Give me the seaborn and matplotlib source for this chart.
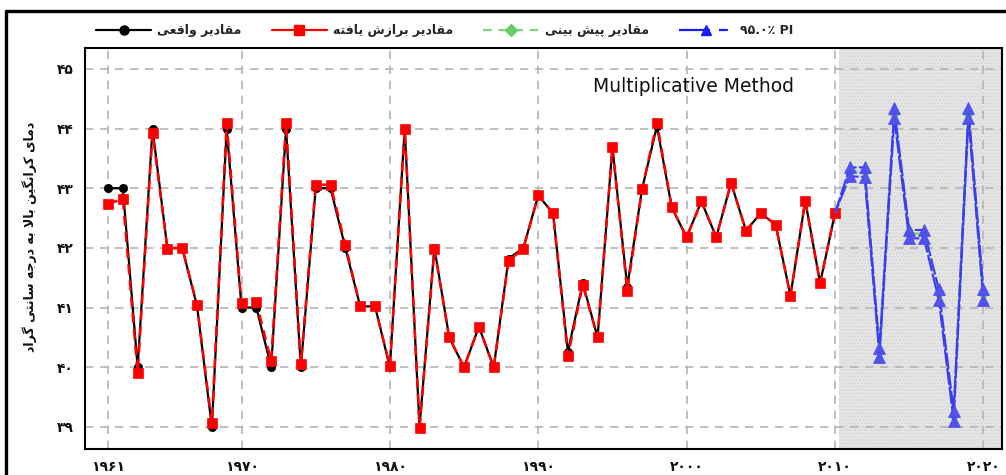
import matplotlib
matplotlib.use("Agg")
import matplotlib.pyplot as plt
import seaborn as sns
import numpy as np
import pandas as pd
from matplotlib.lines import Line2D
from matplotlib import font_manager
from matplotlib.ft2font import FT2Font

# ---------------- data ----------------
years_obs = list(range(1961, 2011))
actual = [43.0, 43.0, 40.0, 44.0, 42.0, 42.0, 41.03, 39.0, 44.0, 41.0,
          41.0, 40.0, 44.0, 40.0, 43.0, 43.0, 42.0, 41.02, 41.02, 40.0,
          44.0, 39.0, 42.0, 40.5, 40.0, 40.68, 40.0, 41.82, 42.0, 42.88,
          42.58, 40.26, 41.41, 40.5, 43.69, 41.35, 42.99, 44.04, 42.68, 42.18,
          42.78, 42.18, 43.09, 42.29, 42.58, 42.39, 41.2, 42.79, 41.41, 42.58]
fitted = [42.74, 42.82, 39.9, 43.93, 41.99, 42.0, 41.05, 39.06, 44.1, 41.07,
          41.09, 40.1, 44.1, 40.05, 43.06, 43.06, 42.05, 41.02, 41.02, 40.02,
          44.0, 38.99, 41.98, 40.5, 40.0, 40.68, 40.0, 41.78, 41.99, 42.88,
          42.58, 40.19, 41.38, 40.5, 43.69, 41.28, 42.99, 44.1, 42.68, 42.18,
          42.78, 42.18, 43.09, 42.29, 42.58, 42.39, 41.2, 42.79, 41.41, 42.58]
years_fc = list(range(2010, 2021))
forecast = [42.58, 43.28, 43.27, 40.25, 44.25, 42.24, 42.24, 41.23, 39.18, 44.25, 41.22]
upper_pi = [42.58, 43.35, 43.35, 40.32, 44.34, 42.30, 42.30, 41.31, 39.27, 44.34, 41.31]
lower_pi = [42.58, 43.20, 43.19, 40.18, 44.17, 42.16, 42.16, 41.13, 39.10, 44.17, 41.13]

legend_labels = ["مقادیر واقعی", "مقادیر برازش یافته", "مقادیر پیش بینی", "۹۵.۰٪ PI"]
y_label = "دمای کرانگین بالا به درجه سانتی گراد"
title_text = "Multiplicative Method"
x_ticks = [1961, 1970, 1980, 1990, 2000, 2010, 2020]
y_ticks = [39, 40, 41, 42, 43, 44, 45]

# ---------------- helpers ----------------
FA_DIGITS = str.maketrans("0123456789", "۰۱۲۳۴۵۶۷۸۹")

def fa_num(v):
    return str(v).translate(FA_DIGITS)

FORMS = {
    'ا': ('\uFE8D', '\uFE8E', None, None),
    'ب': ('\uFE8F', '\uFE90', '\uFE91', '\uFE92'),
    'پ': ('\uFB56', '\uFB57', '\uFB58', '\uFB59'),
    'ت': ('\uFE95', '\uFE96', '\uFE97', '\uFE98'),
    'ج': ('\uFE9D', '\uFE9E', '\uFE9F', '\uFEA0'),
    'د': ('\uFEA9', '\uFEAA', None, None),
    'ر': ('\uFEAD', '\uFEAE', None, None),
    'ز': ('\uFEAF', '\uFEB0', None, None),
    'س': ('\uFEB1', '\uFEB2', '\uFEB3', '\uFEB4'),
    'ش': ('\uFEB5', '\uFEB6', '\uFEB7', '\uFEB8'),
    'ع': ('\uFEC9', '\uFECA', '\uFECB', '\uFECC'),
    'ف': ('\uFED1', '\uFED2', '\uFED3', '\uFED4'),
    'ق': ('\uFED5', '\uFED6', '\uFED7', '\uFED8'),
    'ک': ('\uFB8E', '\uFB8F', '\uFB90', '\uFB91'),
    'گ': ('\uFB92', '\uFB93', '\uFB94', '\uFB95'),
    'ل': ('\uFEDD', '\uFEDE', '\uFEDF', '\uFEE0'),
    'م': ('\uFEE1', '\uFEE2', '\uFEE3', '\uFEE4'),
    'ن': ('\uFEE5', '\uFEE6', '\uFEE7', '\uFEE8'),
    'ه': ('\uFEE9', '\uFEEA', '\uFEEB', '\uFEEC'),
    'و': ('\uFEED', '\uFEEE', None, None),
    'ی': ('\uFBFC', '\uFBFD', '\uFBFE', '\uFBFF'),
}

try:
    _cm1 = FT2Font(font_manager.findfont(font_manager.FontProperties(family='DejaVu Sans', weight='bold'))).get_charmap()
    _cm2 = FT2Font(font_manager.findfont(font_manager.FontProperties(family='DejaVu Sans'))).get_charmap()
    CMAP = set(_cm1) & set(_cm2)
except Exception:
    CMAP = None


def shape_fa(text):
    words = []
    for w in text.split(' '):
        ch = list(w)
        n = len(ch)
        out = []
        i = 0
        while i < n:
            c = ch[i]
            prev_j = i > 0 and ch[i - 1] in FORMS and FORMS[ch[i - 1]][2] is not None
            if c == 'ل' and i + 1 < n and ch[i + 1] == 'ا':
                g = '\uFEFC' if prev_j else '\uFEFB'
                if CMAP is not None and ord(g) not in CMAP:
                    g = 'لا'
                out.append(g)
                i += 2
                continue
            if c not in FORMS:
                out.append(c)
                i += 1
                continue
            iso, fin, ini, med = FORMS[c]
            next_j = ini is not None and i + 1 < n and ch[i + 1] in FORMS
            if prev_j and next_j:
                g = med
            elif prev_j:
                g = fin
            elif next_j:
                g = ini
            else:
                g = iso
            if CMAP is not None and ord(g) not in CMAP:
                g = c
            out.append(g)
            i += 1
        words.append(''.join(out))
    return ' '.join(words)[::-1]

# ---------------- style ----------------
sns.set_style("white")
plt.rcParams['font.family'] = ['DejaVu Sans', 'Noto Sans']

fig = plt.figure(figsize=(10.06, 4.75), dpi=100)
ax = fig.add_axes([85 / 1006, 1 - 449 / 475, (1002 - 85) / 1006, (449 - 48) / 475])

ax.set_xlim(1959.45, 2021.26)
ax.set_ylim(38.63, 45.35)

# forecast shading
ax.axvspan(2010.25, 2030, facecolor='#e6e6e6', edgecolor='#d6d6d6', hatch='.....', lw=0, zorder=0.2)

ax.set_axisbelow(True)
ax.grid(True, color='#b4b4b4', ls=(0, (5, 4)), lw=1.2)

df_obs = pd.DataFrame({'year': years_obs, 'actual': actual, 'fitted': fitted})
df_fc = pd.DataFrame({'year': years_fc, 'forecast': forecast, 'upper': upper_pi, 'lower': lower_pi})

sns.lineplot(data=df_obs, x='year', y='actual', ax=ax, color='black', lw=1.6,
             marker='o', markersize=6, markeredgecolor='black', markeredgewidth=0.5, zorder=2)
sns.lineplot(data=df_obs, x='year', y='fitted', ax=ax, color='#ff0000', lw=1.8, linestyle=(0, (4, 2.5)),
             zorder=3)
sns.lineplot(data=df_obs, x='year', y='fitted', ax=ax, color='#ff0000', lw=0,
             marker='s', markersize=6.5, markeredgecolor='#ff0000', markeredgewidth=0.5, zorder=3.5)
sns.lineplot(data=df_fc, x='year', y='forecast', ax=ax, color='#7ed67e', lw=1.8, linestyle=(0, (5, 3)),
             zorder=4)
sns.lineplot(data=df_fc.iloc[1:], x='year', y='forecast', ax=ax, color='#66cc66', lw=0,
             marker='D', markersize=5.5, markeredgecolor='#66cc66', markeredgewidth=0.5, zorder=4.5)
for col, dash in [('upper', (0, (8, 1.2))), ('lower', (3, (8, 1.2)))]:
    sns.lineplot(data=df_fc, x='year', y=col, ax=ax, color='#3c3cf0', lw=1.5, linestyle=dash,
                 zorder=5)
    sns.lineplot(data=df_fc.iloc[1:], x='year', y=col, ax=ax, color='#5252ee', lw=0,
                 marker='^', markersize=8.5, markeredgecolor='#4848e8', markeredgewidth=0.5, zorder=6)

ax.text(2000.46, 44.70, title_text, ha='center', va='center', fontsize=13.5, color='#111111')

ax.set_xticks(x_ticks)
ax.set_xticklabels([fa_num(v) for v in x_ticks], fontsize=10, fontweight='bold')
ax.set_yticks(y_ticks)
ax.set_yticklabels([fa_num(v) for v in y_ticks], fontsize=10, fontweight='bold')
ax.tick_params(axis='both', direction='out', length=5, width=1.2, color='black', pad=3, labelcolor='#111111')
ax.set_xlabel('')
ax.set_ylabel(shape_fa(y_label), fontsize=9, fontweight='bold', color='#111111')
ax.yaxis.set_label_coords(-0.052, 0.53)

for s in ax.spines.values():
    s.set_visible(True)
    s.set_color('black')
    s.set_linewidth(1.5)

handles = [
    Line2D([], [], color='black', lw=1.6, marker='o', markersize=6.5, markeredgecolor='black'),
    Line2D([], [], color='#ff0000', lw=1.6, marker='s', markersize=7, markeredgecolor='#ff0000'),
    Line2D([], [], color='#7ed67e', lw=1.6, ls=(0, (4, 3)), marker='D', markersize=6,
           markerfacecolor='#66cc66', markeredgecolor='#66cc66'),
    Line2D([], [], color='#1a1aff', lw=1.6, ls=(0, (14, 4, 4, 4)), marker='^', markersize=7,
           markeredgecolor='#1a1aff'),
]
labels = [shape_fa(legend_labels[0]), shape_fa(legend_labels[1]), shape_fa(legend_labels[2]), legend_labels[3]]
fig.legend(handles, labels, loc='center', bbox_to_anchor=(0.442, 0.936), ncol=4, frameon=False,
           handlelength=4.4, handletextpad=0.5, columnspacing=2.4,
           prop={'size': 9, 'weight': 'bold'})

# outer frame lines (cropped figure border)
fig.add_artist(Line2D([6 / 1006, 1.0], [1 - 10.5 / 475, 1 - 10.5 / 475], color='black', lw=2.4,
                      transform=fig.transFigure))
fig.add_artist(Line2D([6 / 1006, 6 / 1006], [0.0, 1 - 10.5 / 475], color='black', lw=2.4,
                      transform=fig.transFigure))

fig.savefig("out.png", dpi=100)
